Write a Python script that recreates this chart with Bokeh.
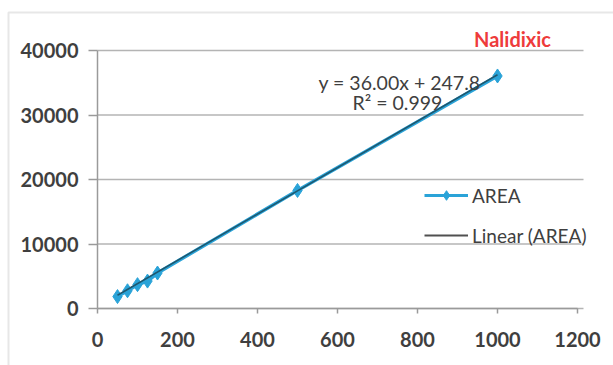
from bokeh.plotting import figure
from bokeh.models import Range1d, Label, Legend, LegendItem, FixedTicker, BoxAnnotation
from bokeh.embed import file_html
from bokeh.resources import INLINE

conc = [50, 75, 100, 125, 150, 500, 1000]
area = [1850, 2750, 3700, 4250, 5500, 18300, 36050]
slope = 36.00
intercept = 247.8
x_ticks = [0, 200, 400, 600, 800, 1000, 1200]
y_ticks = [0, 10000, 20000, 30000, 40000]
title_text = "Nalidixic"
eq_text = "y = 36.00x + 247.8"
r2_text = "R\u00b2 = 0.999"

W, H = 613, 365
FL, FR, FT, FB = 97, 577, 50, 308  # axis extents in page pixels
x_per_px = 1200 / (FR - FL)
y_per_px = 40000 / (FB - FT)

def dx(px):
    return (px - FL) * x_per_px

def dy(py):
    return (FB - py) * y_per_px

p = figure(width=W, height=H, output_backend="svg", toolbar_location=None,
           x_range=Range1d(dx(0), dx(W)), y_range=Range1d(dy(H), dy(0)),
           min_border_left=0, min_border_right=0, min_border_top=0, min_border_bottom=0)
p.outline_line_color = None
p.background_fill_color = "white"
p.border_fill_color = "white"

font = "Lato"
txt = "#3f3f3f"
for ax in (p.xaxis[0], p.yaxis[0]):
    ax.fixed_location = 0
    ax.axis_line_color = "#9a9a9a"
    ax.axis_line_width = 1.5
    ax.major_tick_line_color = "#9a9a9a"
    ax.major_tick_line_width = 1.5
    ax.minor_tick_line_color = None
    ax.major_tick_in = 0
    ax.major_label_text_font = font
    ax.major_label_text_font_size = "20px"
    ax.major_label_text_font_style = "bold"
    ax.major_label_text_color = txt
p.xaxis.ticker = FixedTicker(ticks=x_ticks)
p.yaxis.ticker = FixedTicker(ticks=y_ticks)
p.xaxis.bounds = (0, 1200)
p.yaxis.bounds = (0, 40000)
p.xaxis.major_tick_out = 5
p.yaxis.major_tick_out = 9
p.xaxis.major_label_standoff = 18
p.yaxis.major_label_standoff = 10
p.xgrid.grid_line_color = None
p.ygrid.grid_line_color = None

# outer chart-area border (left and top edges visible)
p.add_layout(BoxAnnotation(left=dx(8), right=dx(W + 20), top=dy(12), bottom=dy(H + 20),
                           fill_alpha=0, line_color="#b0b0b0", line_width=2, level="underlay"))

# horizontal gridlines at the y ticks, ending just past the last x tick
grid_end = dx(583)
p.segment(x0=[0] * len(y_ticks), y0=y_ticks, x1=[grid_end] * len(y_ticks), y1=y_ticks,
          line_color="#b4b4b4", line_width=1.5)

r_line = p.line(conc, area, line_color="#2aa3d8", line_width=3.5)
r_pts = p.scatter(conc, area, marker="diamond", size=14, fill_color="#2aa3d8",
                  line_color="#2aa3d8")
tx = [min(conc), max(conc)]
ty = [slope * v + intercept for v in tx]
r_trend = p.line(tx, ty, line_color="#1d5870", line_width=1.6)

# legend proxies
lg_area_l = p.line([0], [0], line_color="#2aa3d8", line_width=3, visible=False)
lg_area_m = p.scatter([0], [0], marker="diamond", size=12, fill_color="#2aa3d8",
                      line_color="#2aa3d8", visible=False)
lg_lin = p.line([0], [0], line_color="#505050", line_width=2, visible=False)
legend = Legend(items=[LegendItem(label="AREA", renderers=[lg_area_l, lg_area_m]),
                       LegendItem(label="Linear (AREA)", renderers=[lg_lin])],
                location=(424, H - 247), orientation="vertical",
                glyph_width=44, glyph_height=24, label_height=24, spacing=16,
                padding=0, margin=0, label_standoff=4,
                label_text_font=font, label_text_font_size="19px",
                label_text_color=txt, border_line_color=None,
                background_fill_alpha=0)
p.add_layout(legend, "center")

def sx(px):
    return px

def sy(py):
    return H - py

p.add_layout(Label(x=sx(512), y=sy(38), x_units="screen", y_units="screen",
                   text=title_text, text_align="center", text_baseline="middle",
                   text_font=font, text_font_size="20px", text_font_style="bold",
                   text_color="#ee3b3b"))
p.add_layout(Label(x=sx(318), y=sy(82), x_units="screen", y_units="screen",
                   text=eq_text, text_align="left", text_baseline="middle",
                   text_font=font, text_font_size="19.5px", text_color=txt))
p.add_layout(Label(x=sx(352), y=sy(102), x_units="screen", y_units="screen",
                   text=r2_text, text_align="left", text_baseline="middle",
                   text_font=font, text_font_size="19.5px", text_color=txt))

open("out.html", "w").write(file_html(p, INLINE))
